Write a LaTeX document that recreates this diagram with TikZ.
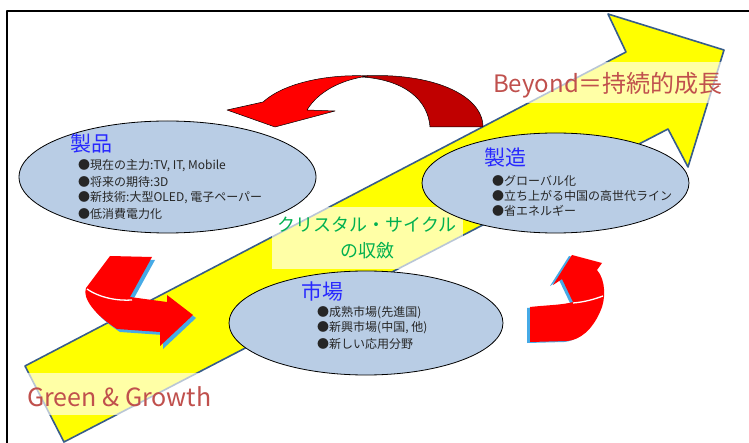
\documentclass[tikz,border=0pt]{standalone}
\usepackage{fontspec}
\setmainfont{Noto Sans CJK JP}
\usepackage{tikz}
\definecolor{FlechaAmarilla}{RGB}{255,255,0}
\definecolor{BordeFlecha}{RGB}{56,93,138}
\definecolor{FondoCelda}{RGB}{185,205,229}
\definecolor{AzulTitulo}{RGB}{40,40,255}
\definecolor{RojoLema}{RGB}{192,80,77}
\definecolor{VerdeCiclo}{RGB}{0,176,80}
\definecolor{RojoCinta}{RGB}{255,0,0}
\definecolor{RojoOscuro}{RGB}{192,0,0}
\definecolor{LadoCinta}{RGB}{70,170,230}

\begin{document}
\begin{tikzpicture}[x=1pt,y=-1pt,line join=round,
  celda/.style={fill=FondoCelda,draw=black,line width=0.8pt},
  franja/.style={fill=white,fill opacity=0.65},
  titulo/.style={text=AzulTitulo,font=\fontsize{21}{21}\selectfont,inner sep=0pt},
  punto/.style={anchor=west,text=black!85,font=\fontsize{12}{12}\selectfont,inner sep=0pt},
  lema/.style={anchor=base west,text=RojoLema,inner sep=0pt}]
  \useasboundingbox (0,0) rectangle (749,443);
  \fill[white] (0,0) rectangle (749,443);

  % marco
  \draw[line width=2.5pt] (7,445) -- (7,11) -- (751,11);

  % flecha grande
  \draw[fill=FlechaAmarilla,draw=BordeFlecha,line width=1.6pt]
    (25,366) -- (626,52) -- (608,14) -- (724,50) -- (688,167) -- (668,129) -- (64,442) -- cycle;

  % flecha curva de arriba
  \draw[fill=RojoOscuro,line width=0.5pt]
    (362,76) .. controls (432,72) and (483,95) .. (483,127) -- (430,127)
    .. controls (428,100) and (405,80) .. (362,77) -- cycle;
  \draw[fill=RojoCinta,line width=0.5pt]
    (227,110) -- (263,102) .. controls (285,82) and (330,74) .. (368,76)
    .. controls (340,80) and (318,92) .. (307,110) -- (335,111) -- (275,127) -- cycle;

  % cinta izquierda
  \fill[LadoCinta,shift={(3,3)}]
    (110,256) -- (152,257) -- (130,297) -- (167,302) -- (167,295) -- (193,315) -- (160,346)
    -- (160,332) -- (117,329) .. controls (95,315) and (82,298) .. (86,288) -- cycle;
  \fill[RojoCinta]
    (110,256) -- (152,257) -- (130,297) -- (167,302) -- (167,295) -- (193,315) -- (160,346)
    -- (160,332) -- (117,329) .. controls (95,315) and (82,298) .. (86,288) -- cycle;
  \draw[white,line width=1.3pt] (87,289) .. controls (100,298) and (118,301) .. (132,300);

  % cinta derecha
  \fill[LadoCinta,shift={(-3,1)}]
    (530,307) .. controls (548,305) and (563,305) .. (573,302) -- (562,279) -- (553,285)
    -- (572,255) -- (602,263) -- (597,270) .. controls (606,280) and (606,300) .. (600,312)
    .. controls (592,330) and (580,340) .. (567,341) -- (530,342) -- cycle;
  \fill[RojoCinta]
    (530,307) .. controls (548,305) and (563,305) .. (573,302) -- (562,279) -- (553,285)
    -- (572,255) -- (602,263) -- (597,270) .. controls (606,280) and (606,300) .. (600,312)
    .. controls (592,330) and (580,340) .. (567,341) -- (530,342) -- cycle;
  \draw[white,line width=1.3pt] (573,303) .. controls (585,302) and (595,299) .. (603,296);

  % franjas claras
  \fill[franja] (488,62) rectangle (722,103);
  \fill[franja] (26,373) rectangle (200,415);
  \fill[franja] (272,207) rectangle (463,269);

  % celdas
  \draw[celda] (167.5,177) ellipse [x radius=148.5,y radius=56];
  \draw[celda] (555.5,183) ellipse [x radius=133.5,y radius=50];
  \draw[celda] (366,323) ellipse [x radius=137,y radius=52];

  % textos
  \node[titulo] (prodTit) at (91,144) {製品};
  \node[punto] (prodA) at (78,166) {●現在の主力:TV, IT, Mobile};
  \node[punto] (prodB) at (78,182) {●将来の期待:3D};
  \node[punto] (prodC) at (78,198) {●新技術:大型OLED, 電子ペーパー};
  \node[punto] (prodD) at (78,214) {●低消費電力化};

  \node[titulo] (fabTit) at (505,158) {製造};
  \node[punto] (fabA) at (492,181) {●グローバル化};
  \node[punto] (fabB) at (492,196) {●立ち上がる中国の高世代ライン};
  \node[punto] (fabC) at (492,211) {●省エネルギー};

  \node[titulo] (merTit) at (322,292) {市場};
  \node[punto] (merA) at (317,313) {●成熟市場(先進国)};
  \node[punto] (merB) at (317,328) {●新興市場(中国, 他)};
  \node[punto] (merC) at (317,344) {●新しい応用分野};

  \node[text=VerdeCiclo,font=\fontsize{18}{18}\selectfont,inner sep=0pt] (cicloA) at (367,225) {クリスタル・サイクル};
  \node[text=VerdeCiclo,font=\fontsize{18}{18}\selectfont,inner sep=0pt] (cicloB) at (367,251) {の収斂};

  \node[lema,font=\fontsize{24}{24}\selectfont] (mas) at (493,93) {Beyond＝持続的成長};
  \node[lema,font=\fontsize{25}{25}\selectfont] (verde) at (27,406) {Green \& Growth};
\end{tikzpicture}
\end{document}
